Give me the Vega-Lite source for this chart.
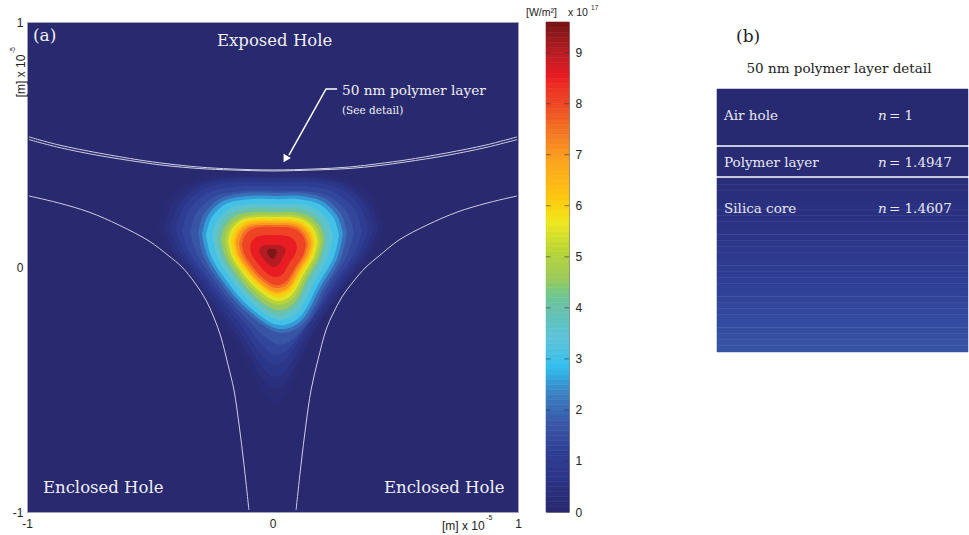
{"$schema":"https://vega.github.io/schema/vega-lite/v6.json","padding":{"left":8,"top":4,"right":0,"bottom":0},"background":"white","bounds":"flush","spacing":28,"config":{"view":{"stroke":null},"axis":{"labelFont":"Liberation Sans","labelFontSize":12,"labelColor":"#222222"},"text":{"font":"DejaVu Serif"}},
"datasets":{"field":[
{"v":0.15,"x":-0.466,"y":0.165,"b":0.165},{"v":0.15,"x":-0.429,"y":0.269,"b":0.075},{"v":0.15,"x":-0.327,"y":0.354,"b":-0.047},{"v":0.15,"x":-0.164,"y":0.383,"b":-0.292},{"v":0.15,"x":0.015,"y":0.383,"b":-0.555},{"v":0.15,"x":0.18,"y":0.383,"b":-0.249},{"v":0.15,"x":0.317,"y":0.354,"b":-0.047},{"v":0.15,"x":0.418,"y":0.269,"b":0.075},{"v":0.15,"x":0.454,"y":0.165,"b":0.165},
{"v":0.4,"x":-0.442,"y":0.159,"b":0.159},{"v":0.4,"x":-0.407,"y":0.259,"b":0.074},{"v":0.4,"x":-0.31,"y":0.339,"b":-0.054},{"v":0.4,"x":-0.156,"y":0.367,"b":-0.265},{"v":0.4,"x":0.015,"y":0.367,"b":-0.498},{"v":0.4,"x":0.172,"y":0.367,"b":-0.254},{"v":0.4,"x":0.303,"y":0.339,"b":-0.054},{"v":0.4,"x":0.398,"y":0.259,"b":0.074},{"v":0.4,"x":0.433,"y":0.159,"b":0.159},
{"v":0.7,"x":-0.417,"y":0.157,"b":0.157},{"v":0.7,"x":-0.384,"y":0.253,"b":0.072},{"v":0.7,"x":-0.293,"y":0.332,"b":-0.049},{"v":0.7,"x":-0.147,"y":0.359,"b":-0.247},{"v":0.7,"x":0.015,"y":0.359,"b":-0.449},{"v":0.7,"x":0.164,"y":0.359,"b":-0.236},{"v":0.7,"x":0.289,"y":0.332,"b":-0.049},{"v":0.7,"x":0.38,"y":0.253,"b":0.072},{"v":0.7,"x":0.413,"y":0.157,"b":0.157},
{"v":1,"x":-0.393,"y":0.153,"b":0.153},{"v":1,"x":-0.362,"y":0.246,"b":0.066},{"v":1,"x":-0.276,"y":0.321,"b":-0.048},{"v":1,"x":-0.139,"y":0.347,"b":-0.226},{"v":1,"x":0.015,"y":0.347,"b":-0.4},{"v":1,"x":0.154,"y":0.347,"b":-0.226},{"v":1,"x":0.272,"y":0.321,"b":-0.053},{"v":1,"x":0.358,"y":0.246,"b":0.066},{"v":1,"x":0.389,"y":0.153,"b":0.153},
{"v":1.3,"x":-0.368,"y":0.147,"b":0.147},{"v":1.3,"x":-0.339,"y":0.234,"b":0.061},{"v":1.3,"x":-0.258,"y":0.305,"b":-0.051},{"v":1.3,"x":-0.13,"y":0.33,"b":-0.209},{"v":1.3,"x":0.02,"y":0.33,"b":-0.359},{"v":1.3,"x":0.144,"y":0.33,"b":-0.234},{"v":1.3,"x":0.254,"y":0.305,"b":-0.059},{"v":1.3,"x":0.335,"y":0.234,"b":0.057},{"v":1.3,"x":0.364,"y":0.147,"b":0.147},
{"v":1.6,"x":-0.336,"y":0.14,"b":0.14},{"v":1.6,"x":-0.309,"y":0.221,"b":0.057},{"v":1.6,"x":-0.236,"y":0.287,"b":-0.056},{"v":1.6,"x":-0.119,"y":0.31,"b":-0.198},{"v":1.6,"x":0.031,"y":0.31,"b":-0.318},{"v":1.6,"x":0.132,"y":0.31,"b":-0.243},{"v":1.6,"x":0.232,"y":0.287,"b":-0.067},{"v":1.6,"x":0.305,"y":0.221,"b":0.05},{"v":1.6,"x":0.332,"y":0.14,"b":0.14},
{"v":2,"x":-0.303,"y":0.138,"b":0.138},{"v":2,"x":-0.279,"y":0.216,"b":0.041},{"v":2,"x":-0.213,"y":0.28,"b":-0.064},{"v":2,"x":-0.107,"y":0.302,"b":-0.184},{"v":2,"x":0.029,"y":0.302,"b":-0.269},{"v":2,"x":0.12,"y":0.302,"b":-0.236},{"v":2,"x":0.212,"y":0.28,"b":-0.08},{"v":2,"x":0.279,"y":0.216,"b":0.037},{"v":2,"x":0.303,"y":0.138,"b":0.138},
{"v":2.5,"x":-0.287,"y":0.134,"b":0.134},{"v":2.5,"x":-0.264,"y":0.208,"b":0.042},{"v":2.5,"x":-0.202,"y":0.269,"b":-0.058},{"v":2.5,"x":-0.102,"y":0.29,"b":-0.172},{"v":2.5,"x":0.027,"y":0.29,"b":-0.253},{"v":2.5,"x":0.114,"y":0.29,"b":-0.222},{"v":2.5,"x":0.2,"y":0.269,"b":-0.073},{"v":2.5,"x":0.264,"y":0.208,"b":0.038},{"v":2.5,"x":0.287,"y":0.134,"b":0.134},
{"v":3,"x":-0.271,"y":0.13,"b":0.13},{"v":3,"x":-0.249,"y":0.2,"b":0.042},{"v":3,"x":-0.19,"y":0.257,"b":-0.052},{"v":3,"x":-0.096,"y":0.277,"b":-0.161},{"v":3,"x":0.025,"y":0.277,"b":-0.237},{"v":3,"x":0.107,"y":0.277,"b":-0.208},{"v":3,"x":0.189,"y":0.257,"b":-0.066},{"v":3,"x":0.249,"y":0.2,"b":0.039},{"v":3,"x":0.271,"y":0.13,"b":0.13},
{"v":3.5,"x":-0.246,"y":0.123,"b":0.123},{"v":3.5,"x":-0.226,"y":0.187,"b":0.043},{"v":3.5,"x":-0.173,"y":0.239,"b":-0.044},{"v":3.5,"x":-0.087,"y":0.257,"b":-0.145},{"v":3.5,"x":0.023,"y":0.257,"b":-0.216},{"v":3.5,"x":0.097,"y":0.257,"b":-0.189},{"v":3.5,"x":0.172,"y":0.239,"b":-0.058},{"v":3.5,"x":0.226,"y":0.187,"b":0.041},{"v":3.5,"x":0.246,"y":0.123,"b":0.123},
{"v":4,"x":-0.226,"y":0.118,"b":0.118},{"v":4,"x":-0.208,"y":0.177,"b":0.044},{"v":4,"x":-0.159,"y":0.224,"b":-0.037},{"v":4,"x":-0.08,"y":0.241,"b":-0.13},{"v":4,"x":0.02,"y":0.241,"b":-0.196},{"v":4,"x":0.088,"y":0.241,"b":-0.171},{"v":4,"x":0.155,"y":0.224,"b":-0.049},{"v":4,"x":0.204,"y":0.177,"b":0.042},{"v":4,"x":0.222,"y":0.118,"b":0.118},
{"v":4.5,"x":-0.21,"y":0.112,"b":0.112},{"v":4.5,"x":-0.193,"y":0.166,"b":0.045},{"v":4.5,"x":-0.148,"y":0.209,"b":-0.029},{"v":4.5,"x":-0.075,"y":0.224,"b":-0.115},{"v":4.5,"x":0.019,"y":0.224,"b":-0.176},{"v":4.5,"x":0.083,"y":0.224,"b":-0.153},{"v":4.5,"x":0.146,"y":0.209,"b":-0.041},{"v":4.5,"x":0.193,"y":0.166,"b":0.043},{"v":4.5,"x":0.21,"y":0.112,"b":0.112},
{"v":5,"x":-0.193,"y":0.108,"b":0.108},{"v":5,"x":-0.178,"y":0.158,"b":0.046},{"v":5,"x":-0.136,"y":0.198,"b":-0.021},{"v":5,"x":-0.069,"y":0.212,"b":-0.1},{"v":5,"x":0.018,"y":0.212,"b":-0.155},{"v":5,"x":0.078,"y":0.212,"b":-0.134},{"v":5,"x":0.137,"y":0.198,"b":-0.032},{"v":5,"x":0.181,"y":0.158,"b":0.044},{"v":5,"x":0.197,"y":0.108,"b":0.108},
{"v":5.5,"x":-0.181,"y":0.106,"b":0.106},{"v":5.5,"x":-0.167,"y":0.153,"b":0.047},{"v":5.5,"x":-0.127,"y":0.191,"b":-0.016},{"v":5.5,"x":-0.065,"y":0.204,"b":-0.088},{"v":5.5,"x":0.017,"y":0.204,"b":-0.139},{"v":5.5,"x":0.073,"y":0.204,"b":-0.119},{"v":5.5,"x":0.129,"y":0.191,"b":-0.025},{"v":5.5,"x":0.17,"y":0.153,"b":0.045},{"v":5.5,"x":0.185,"y":0.106,"b":0.106},
{"v":6,"x":-0.169,"y":0.103,"b":0.103},{"v":6,"x":-0.156,"y":0.147,"b":0.048},{"v":6,"x":-0.119,"y":0.183,"b":-0.01},{"v":6,"x":-0.06,"y":0.196,"b":-0.076},{"v":6,"x":0.016,"y":0.196,"b":-0.123},{"v":6,"x":0.068,"y":0.196,"b":-0.105},{"v":6,"x":0.121,"y":0.183,"b":-0.019},{"v":6,"x":0.159,"y":0.147,"b":0.046},{"v":6,"x":0.173,"y":0.103,"b":0.103},
{"v":6.5,"x":-0.157,"y":0.1,"b":0.1},{"v":6.5,"x":-0.145,"y":0.142,"b":0.049},{"v":6.5,"x":-0.111,"y":0.176,"b":-0.005},{"v":6.5,"x":-0.056,"y":0.188,"b":-0.067},{"v":6.5,"x":0.015,"y":0.188,"b":-0.11},{"v":6.5,"x":0.065,"y":0.188,"b":-0.093},{"v":6.5,"x":0.115,"y":0.176,"b":-0.013},{"v":6.5,"x":0.152,"y":0.142,"b":0.047},{"v":6.5,"x":0.165,"y":0.1,"b":0.1},
{"v":7,"x":-0.149,"y":0.097,"b":0.097},{"v":7,"x":-0.137,"y":0.136,"b":0.049},{"v":7,"x":-0.105,"y":0.168,"b":-0.002},{"v":7,"x":-0.053,"y":0.179,"b":-0.061},{"v":7,"x":0.014,"y":0.179,"b":-0.102},{"v":7,"x":0.062,"y":0.179,"b":-0.086},{"v":7,"x":0.109,"y":0.168,"b":-0.01},{"v":7,"x":0.144,"y":0.136,"b":0.047},{"v":7,"x":0.157,"y":0.097,"b":0.097},
{"v":7.5,"x":-0.136,"y":0.095,"b":0.095},{"v":7.5,"x":-0.125,"y":0.131,"b":0.05},{"v":7.5,"x":-0.096,"y":0.161,"b":0.004},{"v":7.5,"x":-0.049,"y":0.171,"b":-0.049},{"v":7.5,"x":0.013,"y":0.171,"b":-0.086},{"v":7.5,"x":0.057,"y":0.171,"b":-0.072},{"v":7.5,"x":0.101,"y":0.161,"b":-0.003},{"v":7.5,"x":0.133,"y":0.131,"b":0.048},{"v":7.5,"x":0.145,"y":0.095,"b":0.095},
{"v":8,"x":-0.124,"y":0.092,"b":0.092},{"v":8,"x":-0.114,"y":0.126,"b":0.05},{"v":8,"x":-0.087,"y":0.153,"b":0.009},{"v":8,"x":-0.045,"y":0.163,"b":-0.04},{"v":8,"x":0.012,"y":0.163,"b":-0.074},{"v":8,"x":0.053,"y":0.163,"b":-0.061},{"v":8,"x":0.095,"y":0.153,"b":0.002},{"v":8,"x":0.125,"y":0.126,"b":0.049},{"v":8,"x":0.136,"y":0.092,"b":0.092},
{"v":8.5,"x":-0.092,"y":0.081,"b":0.081},{"v":8.5,"x":-0.085,"y":0.104,"b":0.052},{"v":8.5,"x":-0.065,"y":0.123,"b":0.021},{"v":8.5,"x":-0.034,"y":0.13,"b":-0.016},{"v":8.5,"x":0.008,"y":0.13,"b":-0.041},{"v":8.5,"x":0.039,"y":0.13,"b":-0.031},{"v":8.5,"x":0.069,"y":0.123,"b":0.016},{"v":8.5,"x":0.092,"y":0.104,"b":0.051},{"v":8.5,"x":0.1,"y":0.081,"b":0.081},
{"v":9,"x":-0.055,"y":0.068,"b":0.068},{"v":9,"x":-0.051,"y":0.078,"b":0.054},{"v":9,"x":-0.039,"y":0.087,"b":0.036},{"v":9,"x":-0.021,"y":0.09,"b":0.015},{"v":9,"x":0.004,"y":0.09,"b":0},{"v":9,"x":0.021,"y":0.09,"b":0.006},{"v":9,"x":0.038,"y":0.087,"b":0.033},{"v":9,"x":0.05,"y":0.078,"b":0.054},{"v":9,"x":0.055,"y":0.068,"b":0.068},
{"v":9.5,"x":-0.022,"y":0.062,"b":0.062},{"v":9.5,"x":-0.02,"y":0.067,"b":0.056},{"v":9.5,"x":-0.016,"y":0.072,"b":0.048},{"v":9.5,"x":-0.009,"y":0.073,"b":0.039},{"v":9.5,"x":0,"y":0.073,"b":0.033},{"v":9.5,"x":0.006,"y":0.073,"b":0.035},{"v":9.5,"x":0.012,"y":0.072,"b":0.047},{"v":9.5,"x":0.016,"y":0.067,"b":0.056},{"v":9.5,"x":0.018,"y":0.062,"b":0.062}
],
"curves":[
{"c":"top1","x":-0.992,"y":0.531},{"c":"top1","x":-0.87,"y":0.498},{"c":"top1","x":-0.707,"y":0.465},{"c":"top1","x":-0.544,"y":0.437},{"c":"top1","x":-0.434,"y":0.422},{"c":"top1","x":-0.299,"y":0.408},{"c":"top1","x":-0.165,"y":0.4},{"c":"top1","x":0.002,"y":0.396},{"c":"top1","x":0.169,"y":0.4},{"c":"top1","x":0.312,"y":0.408},{"c":"top1","x":0.434,"y":0.422},{"c":"top1","x":0.544,"y":0.437},{"c":"top1","x":0.707,"y":0.465},{"c":"top1","x":0.87,"y":0.498},{"c":"top1","x":0.996,"y":0.531},
{"c":"top2","x":-0.992,"y":0.52},{"c":"top2","x":-0.87,"y":0.488},{"c":"top2","x":-0.707,"y":0.455},{"c":"top2","x":-0.544,"y":0.429},{"c":"top2","x":-0.434,"y":0.414},{"c":"top2","x":-0.299,"y":0.402},{"c":"top2","x":-0.165,"y":0.396},{"c":"top2","x":0.002,"y":0.392},{"c":"top2","x":0.169,"y":0.396},{"c":"top2","x":0.312,"y":0.402},{"c":"top2","x":0.434,"y":0.414},{"c":"top2","x":0.544,"y":0.429},{"c":"top2","x":0.707,"y":0.455},{"c":"top2","x":0.87,"y":0.488},{"c":"top2","x":0.996,"y":0.52},
{"c":"left","x":-0.992,"y":0.29},{"c":"left","x":-0.87,"y":0.261},{"c":"left","x":-0.747,"y":0.224},{"c":"left","x":-0.625,"y":0.171},{"c":"left","x":-0.503,"y":0.106},{"c":"left","x":-0.422,"y":0.045},{"c":"left","x":-0.369,"y":0},{"c":"left","x":-0.316,"y":-0.065},{"c":"left","x":-0.271,"y":-0.135},{"c":"left","x":-0.238,"y":-0.208},{"c":"left","x":-0.21,"y":-0.286},{"c":"left","x":-0.181,"y":-0.4},{"c":"left","x":-0.157,"y":-0.502},{"c":"left","x":-0.136,"y":-0.645},{"c":"left","x":-0.116,"y":-0.808},{"c":"left","x":-0.096,"y":-0.992},
{"c":"right","x":0.096,"y":-0.992},{"c":"right","x":0.116,"y":-0.808},{"c":"right","x":0.136,"y":-0.645},{"c":"right","x":0.157,"y":-0.502},{"c":"right","x":0.185,"y":-0.38},{"c":"right","x":0.218,"y":-0.257},{"c":"right","x":0.246,"y":-0.192},{"c":"right","x":0.283,"y":-0.122},{"c":"right","x":0.328,"y":-0.061},{"c":"right","x":0.381,"y":0},{"c":"right","x":0.434,"y":0.045},{"c":"right","x":0.515,"y":0.11},{"c":"right","x":0.629,"y":0.171},{"c":"right","x":0.752,"y":0.224},{"c":"right","x":0.874,"y":0.261},{"c":"right","x":0.996,"y":0.29}
],
"bar":[{"x":0,"xe":1,"v":0,"w":0.1},{"x":0,"xe":1,"v":0.1,"w":0.2},{"x":0,"xe":1,"v":0.2,"w":0.3},{"x":0,"xe":1,"v":0.3,"w":0.4},{"x":0,"xe":1,"v":0.4,"w":0.5},{"x":0,"xe":1,"v":0.5,"w":0.6},{"x":0,"xe":1,"v":0.6,"w":0.7},{"x":0,"xe":1,"v":0.7,"w":0.8},{"x":0,"xe":1,"v":0.8,"w":0.9},{"x":0,"xe":1,"v":0.9,"w":1},{"x":0,"xe":1,"v":1,"w":1.1},{"x":0,"xe":1,"v":1.1,"w":1.2},{"x":0,"xe":1,"v":1.2,"w":1.3},{"x":0,"xe":1,"v":1.3,"w":1.4},{"x":0,"xe":1,"v":1.4,"w":1.5},{"x":0,"xe":1,"v":1.5,"w":1.6},{"x":0,"xe":1,"v":1.6,"w":1.7},{"x":0,"xe":1,"v":1.7,"w":1.8},{"x":0,"xe":1,"v":1.8,"w":1.9},{"x":0,"xe":1,"v":1.9,"w":2},{"x":0,"xe":1,"v":2,"w":2.1},{"x":0,"xe":1,"v":2.1,"w":2.2},{"x":0,"xe":1,"v":2.2,"w":2.3},{"x":0,"xe":1,"v":2.3,"w":2.4},{"x":0,"xe":1,"v":2.4,"w":2.5},{"x":0,"xe":1,"v":2.5,"w":2.6},{"x":0,"xe":1,"v":2.6,"w":2.7},{"x":0,"xe":1,"v":2.7,"w":2.8},{"x":0,"xe":1,"v":2.8,"w":2.9},{"x":0,"xe":1,"v":2.9,"w":3},{"x":0,"xe":1,"v":3,"w":3.1},{"x":0,"xe":1,"v":3.1,"w":3.2},{"x":0,"xe":1,"v":3.2,"w":3.3},{"x":0,"xe":1,"v":3.3,"w":3.4},{"x":0,"xe":1,"v":3.4,"w":3.5},{"x":0,"xe":1,"v":3.5,"w":3.6},{"x":0,"xe":1,"v":3.6,"w":3.7},{"x":0,"xe":1,"v":3.7,"w":3.8},{"x":0,"xe":1,"v":3.8,"w":3.9},{"x":0,"xe":1,"v":3.9,"w":4},{"x":0,"xe":1,"v":4,"w":4.1},{"x":0,"xe":1,"v":4.1,"w":4.2},{"x":0,"xe":1,"v":4.2,"w":4.3},{"x":0,"xe":1,"v":4.3,"w":4.4},{"x":0,"xe":1,"v":4.4,"w":4.5},{"x":0,"xe":1,"v":4.5,"w":4.6},{"x":0,"xe":1,"v":4.6,"w":4.7},{"x":0,"xe":1,"v":4.7,"w":4.8},{"x":0,"xe":1,"v":4.8,"w":4.9},{"x":0,"xe":1,"v":4.9,"w":5},{"x":0,"xe":1,"v":5,"w":5.1},{"x":0,"xe":1,"v":5.1,"w":5.2},{"x":0,"xe":1,"v":5.2,"w":5.3},{"x":0,"xe":1,"v":5.3,"w":5.4},{"x":0,"xe":1,"v":5.4,"w":5.5},{"x":0,"xe":1,"v":5.5,"w":5.6},{"x":0,"xe":1,"v":5.6,"w":5.7},{"x":0,"xe":1,"v":5.7,"w":5.8},{"x":0,"xe":1,"v":5.8,"w":5.9},{"x":0,"xe":1,"v":5.9,"w":6},{"x":0,"xe":1,"v":6,"w":6.1},{"x":0,"xe":1,"v":6.1,"w":6.2},{"x":0,"xe":1,"v":6.2,"w":6.3},{"x":0,"xe":1,"v":6.3,"w":6.4},{"x":0,"xe":1,"v":6.4,"w":6.5},{"x":0,"xe":1,"v":6.5,"w":6.6},{"x":0,"xe":1,"v":6.6,"w":6.7},{"x":0,"xe":1,"v":6.7,"w":6.8},{"x":0,"xe":1,"v":6.8,"w":6.9},{"x":0,"xe":1,"v":6.9,"w":7},{"x":0,"xe":1,"v":7,"w":7.1},{"x":0,"xe":1,"v":7.1,"w":7.2},{"x":0,"xe":1,"v":7.2,"w":7.3},{"x":0,"xe":1,"v":7.3,"w":7.4},{"x":0,"xe":1,"v":7.4,"w":7.5},{"x":0,"xe":1,"v":7.5,"w":7.6},{"x":0,"xe":1,"v":7.6,"w":7.7},{"x":0,"xe":1,"v":7.7,"w":7.8},{"x":0,"xe":1,"v":7.8,"w":7.9},{"x":0,"xe":1,"v":7.9,"w":8},{"x":0,"xe":1,"v":8,"w":8.1},{"x":0,"xe":1,"v":8.1,"w":8.2},{"x":0,"xe":1,"v":8.2,"w":8.3},{"x":0,"xe":1,"v":8.3,"w":8.4},{"x":0,"xe":1,"v":8.4,"w":8.5},{"x":0,"xe":1,"v":8.5,"w":8.6},{"x":0,"xe":1,"v":8.6,"w":8.7},{"x":0,"xe":1,"v":8.7,"w":8.8},{"x":0,"xe":1,"v":8.8,"w":8.9},{"x":0,"xe":1,"v":8.9,"w":9},{"x":0,"xe":1,"v":9,"w":9.1},{"x":0,"xe":1,"v":9.1,"w":9.2},{"x":0,"xe":1,"v":9.2,"w":9.3},{"x":0,"xe":1,"v":9.3,"w":9.4},{"x":0,"xe":1,"v":9.4,"w":9.5},{"x":0,"xe":1,"v":9.5,"w":9.6}],
"layers":[{"x":0,"xe":1,"d":-92,"e":-1.6,"v":0.05},{"x":0,"xe":1,"d":1.6,"e":48.4,"v":0.15},{"x":0,"xe":1,"d":51.6,"e":62,"v":0.27},{"x":0,"xe":1,"d":62,"e":72,"v":0.31},{"x":0,"xe":1,"d":72,"e":82,"v":0.35},{"x":0,"xe":1,"d":82,"e":92,"v":0.39},{"x":0,"xe":1,"d":92,"e":102,"v":0.43},{"x":0,"xe":1,"d":102,"e":112,"v":0.47},{"x":0,"xe":1,"d":112,"e":122,"v":0.51},{"x":0,"xe":1,"d":122,"e":132,"v":0.55},{"x":0,"xe":1,"d":132,"e":142,"v":0.6},{"x":0,"xe":1,"d":142,"e":152,"v":0.66},{"x":0,"xe":1,"d":152,"e":162,"v":0.73},{"x":0,"xe":1,"d":162,"e":172,"v":0.8},{"x":0,"xe":1,"d":172,"e":182,"v":0.87},{"x":0,"xe":1,"d":182,"e":192,"v":0.93},{"x":0,"xe":1,"d":192,"e":202,"v":0.99},{"x":0,"xe":1,"d":202,"e":212,"v":1.05},{"x":0,"xe":1,"d":212,"e":222,"v":1.1},{"x":0,"xe":1,"d":222,"e":232,"v":1.15},{"x":0,"xe":1,"d":232,"e":242,"v":1.2},{"x":0,"xe":1,"d":242,"e":252,"v":1.25},{"x":0,"xe":1,"d":252,"e":262,"v":1.3},{"x":0,"xe":1,"d":262,"e":272,"v":1.34},{"x":0,"xe":1,"d":272,"e":282,"v":1.38},{"x":0,"xe":1,"d":282,"e":292,"v":1.42},{"x":0,"xe":1,"d":292,"e":302,"v":1.46},{"x":0,"xe":1,"d":302,"e":312,"v":1.5},{"x":0,"xe":1,"d":312,"e":322,"v":1.54},{"x":0,"xe":1,"d":322,"e":332,"v":1.58}]
},
"hconcat":[
{"width":491,"height":490,"view":{"fill":"#28296f","stroke":"#a0a0b8"},
"encoding":{"x":{"field":"x","type":"quantitative","scale":{"domain":[-1,1]},"axis":{"values":[-1,0,1],"title":null,"grid":false,"domain":false,"ticks":false,"labelPadding":6,"labelFlush":false,"labelExpr":"''+datum.value"}},"y":{"field":"y","type":"quantitative","scale":{"domain":[-1,1]},"axis":{"values":[-1,0,1],"title":null,"grid":false,"domain":false,"ticks":false,"labelPadding":4,"labelExpr":"''+datum.value"}}},
"layer":[
{"data":{"name":"field"},"mark":{"type":"area","interpolate":"catmull-rom"},"encoding":{"y2":{"field":"b"},"detail":{"field":"v"},"color":{"field":"v","type":"quantitative","legend":null,"scale":{"domain":[0,0.5,1,2,2.5,3,3.5,4,5,5.5,6,6.5,7,7.5,8,8.5,9,9.6],"range":["#28296f","#2b3385","#2f3f95","#3a58a8","#3c80c2","#35c0ee","#5fc3d8","#6cc0aa","#9cc85a","#bcd535","#f0e81e","#fdc010","#fba81e","#f47a24","#ee4a25","#ec1c24","#b01c22","#701515"]}}}},
{"data":{"name":"curves"},"mark":{"type":"line","stroke":"#cfcfe0","strokeWidth":1,"interpolate":"catmull-rom"},"encoding":{"detail":{"field":"c"},"order":{"field":"x"}}},
{"data":{"values":[{"x":0.263,"y":0.727,"o":0},{"x":0.218,"y":0.727,"o":1},{"x":0.067,"y":0.457,"o":2}]},"mark":{"type":"line","stroke":"#ffffff","strokeWidth":1.5},"encoding":{"order":{"field":"o"}}},
{"data":{"values":[{"x":0.055,"y":0.445}]},"mark":{"type":"point","shape":"triangle","filled":true,"fill":"#ffffff","opacity":1,"size":70,"angle":210}},
{"data":{"values":[{"x":-0.976,"y":0.943,"t":"(a)"}]},"mark":{"type":"text","align":"left","baseline":"middle","fontSize":17,"color":"#f0f0f5"},"encoding":{"text":{"field":"t"}}},
{"data":{"values":[{"x":-0.935,"y":-0.902,"t":"Enclosed Hole"},{"x":0.454,"y":-0.902,"t":"Enclosed Hole"},{"x":-0.226,"y":0.922,"t":"Exposed Hole"}]},"mark":{"type":"text","align":"left","baseline":"middle","fontSize":16.5,"color":"#f0f0f5"},"encoding":{"text":{"field":"t"}}},
{"data":{"values":[{"x":0.283,"y":0.718,"t":"50 nm polymer layer"}]},"mark":{"type":"text","align":"left","baseline":"middle","fontSize":13.7,"color":"#f0f0f5"},"encoding":{"text":{"field":"t"}}},
{"data":{"values":[{"x":0.283,"y":0.637,"t":"(See detail)"}]},"mark":{"type":"text","align":"left","baseline":"middle","fontSize":10.5,"color":"#f0f0f5"},"encoding":{"text":{"field":"t"}}},
{"data":{"values":[{"x":0.69,"y":-1.058,"t":"[m] x 10"}]},"mark":{"type":"text","font":"Liberation Sans","align":"left","baseline":"middle","fontSize":12,"color":"#222222"},"encoding":{"text":{"field":"t"}}},
{"data":{"values":[{"x":0.87,"y":-1.025,"t":"-5"}]},"mark":{"type":"text","font":"Liberation Sans","align":"left","baseline":"middle","fontSize":7,"color":"#222222"},"encoding":{"text":{"field":"t"}}},
{"data":{"values":[{"x":-1.025,"y":0.78,"t":"[m] x 10"}]},"mark":{"type":"text","font":"Liberation Sans","align":"center","baseline":"middle","angle":270,"fontSize":12,"color":"#222222"},"encoding":{"text":{"field":"t"}}},
{"data":{"values":[{"x":-1.058,"y":0.885,"t":"-5"}]},"mark":{"type":"text","font":"Liberation Sans","align":"center","baseline":"middle","angle":270,"fontSize":7,"color":"#222222"},"encoding":{"text":{"field":"t"}}}
]},
{"width":23,"height":490,"view":{"stroke":"#888888"},
"encoding":{"x":{"field":"x","type":"quantitative","scale":{"domain":[0,1]},"axis":null},"y":{"field":"y","type":"quantitative","scale":{"domain":[0,9.6]},"axis":{"orient":"right","values":[0,1,2,3,4,5,6,7,8,9],"title":null,"grid":false,"domain":false,"ticks":false,"labelPadding":6}}},
"layer":[
{"data":{"name":"bar"},"mark":{"type":"rect","strokeWidth":0.6},"encoding":{"x2":{"field":"xe"},"y":{"field":"v","type":"quantitative","scale":{"domain":[0,9.6]},"axis":{"orient":"right","values":[0,1,2,3,4,5,6,7,8,9],"title":null,"grid":false,"domain":false,"ticks":false,"labelPadding":6}},"y2":{"field":"w"},"color":{"field":"v","type":"quantitative","legend":null,"scale":{"domain":[0,0.5,1,2,2.5,3,3.5,4,5,5.5,6,6.5,7,7.5,8,8.5,9,9.6],"range":["#28296f","#2b3385","#2f3f95","#3a58a8","#3c80c2","#35c0ee","#5fc3d8","#6cc0aa","#9cc85a","#bcd535","#f0e81e","#fdc010","#fba81e","#f47a24","#ee4a25","#ec1c24","#b01c22","#701515"]}},"stroke":{"field":"v","type":"quantitative","legend":null,"scale":{"domain":[0,0.5,1,2,2.5,3,3.5,4,5,5.5,6,6.5,7,7.5,8,8.5,9,9.6],"range":["#28296f","#2b3385","#2f3f95","#3a58a8","#3c80c2","#35c0ee","#5fc3d8","#6cc0aa","#9cc85a","#bcd535","#f0e81e","#fdc010","#fba81e","#f47a24","#ee4a25","#ec1c24","#b01c22","#701515"]}}}},
{"data":{"values":[{"y":1,"x":0,"c":0.2},{"y":1,"x":0.8,"c":1},{"y":2,"x":0,"c":0.2},{"y":2,"x":0.8,"c":1},{"y":3,"x":0,"c":0.2},{"y":3,"x":0.8,"c":1},{"y":4,"x":0,"c":0.2},{"y":4,"x":0.8,"c":1},{"y":5,"x":0,"c":0.2},{"y":5,"x":0.8,"c":1},{"y":6,"x":0,"c":0.2},{"y":6,"x":0.8,"c":1},{"y":7,"x":0,"c":0.2},{"y":7,"x":0.8,"c":1},{"y":8,"x":0,"c":0.2},{"y":8,"x":0.8,"c":1},{"y":9,"x":0,"c":0.2},{"y":9,"x":0.8,"c":1}]},"mark":{"type":"rule","stroke":"#333333","strokeWidth":1,"opacity":0.6},"encoding":{"x2":{"field":"c"}}},
{"data":{"values":[{"x":-0.87,"y":9.78,"t":"[W/m²]"},{"x":0.957,"y":9.78,"t":"x 10"}]},"mark":{"type":"text","font":"Liberation Sans","align":"left","baseline":"middle","fontSize":10.5,"color":"#222222"},"encoding":{"text":{"field":"t"}}},
{"data":{"values":[{"x":1.96,"y":9.87,"t":"17"}]},"mark":{"type":"text","font":"Liberation Sans","align":"left","baseline":"middle","fontSize":6.5,"color":"#222222"},"encoding":{"text":{"field":"t"}}}
]},
{"width":371,"height":490,
"encoding":{"x":{"field":"x","type":"quantitative","scale":{"domain":[-0.478,1]},"axis":null},"y":{"field":"d","type":"quantitative","scale":{"domain":[-200,590],"reverse":true},"axis":null}},
"layer":[
{"data":{"name":"layers"},"mark":{"type":"rect","strokeWidth":0.5},"encoding":{"x2":{"field":"xe"},"y2":{"field":"e"},"color":{"field":"v","type":"quantitative","legend":null,"scale":{"domain":[0,0.5,1,2,2.5,3],"range":["#28296f","#2b3385","#2f3f95","#3a58a8","#3c80c2","#35c0ee"]}},"stroke":{"field":"v","type":"quantitative","legend":null,"scale":{"domain":[0,0.5,1,2,2.5,3],"range":["#28296f","#2b3385","#2f3f95","#3a58a8","#3c80c2","#35c0ee"]}}}},
{"data":{"values":[{"x":0.028,"d":-48,"t":"Air hole"},{"x":0.028,"d":27,"t":"Polymer layer"},{"x":0.028,"d":102,"t":"Silica core"},{"x":0.685,"d":-48,"t":"= 1"},{"x":0.685,"d":27,"t":"= 1.4947"},{"x":0.685,"d":102,"t":"= 1.4607"}]},"mark":{"type":"text","align":"left","baseline":"middle","fontSize":13.5,"color":"#e8e8f2"},"encoding":{"text":{"field":"t"}}},
{"data":{"values":[{"x":0.641,"d":-48,"t":"n"},{"x":0.641,"d":27,"t":"n"},{"x":0.641,"d":102,"t":"n"}]},"mark":{"type":"text","align":"left","baseline":"middle","fontSize":13.5,"fontStyle":"italic","color":"#e8e8f2"},"encoding":{"text":{"field":"t"}}},
{"data":{"values":[{"x":0.076,"d":-176,"t":"(b)"}]},"mark":{"type":"text","align":"left","baseline":"middle","fontSize":17,"color":"#222222"},"encoding":{"text":{"field":"t"}}},
{"data":{"values":[{"x":0.486,"d":-124,"t":"50 nm polymer layer detail"}]},"mark":{"type":"text","align":"center","baseline":"middle","fontSize":13.5,"color":"#222222"},"encoding":{"text":{"field":"t"}}}
]}
]}
